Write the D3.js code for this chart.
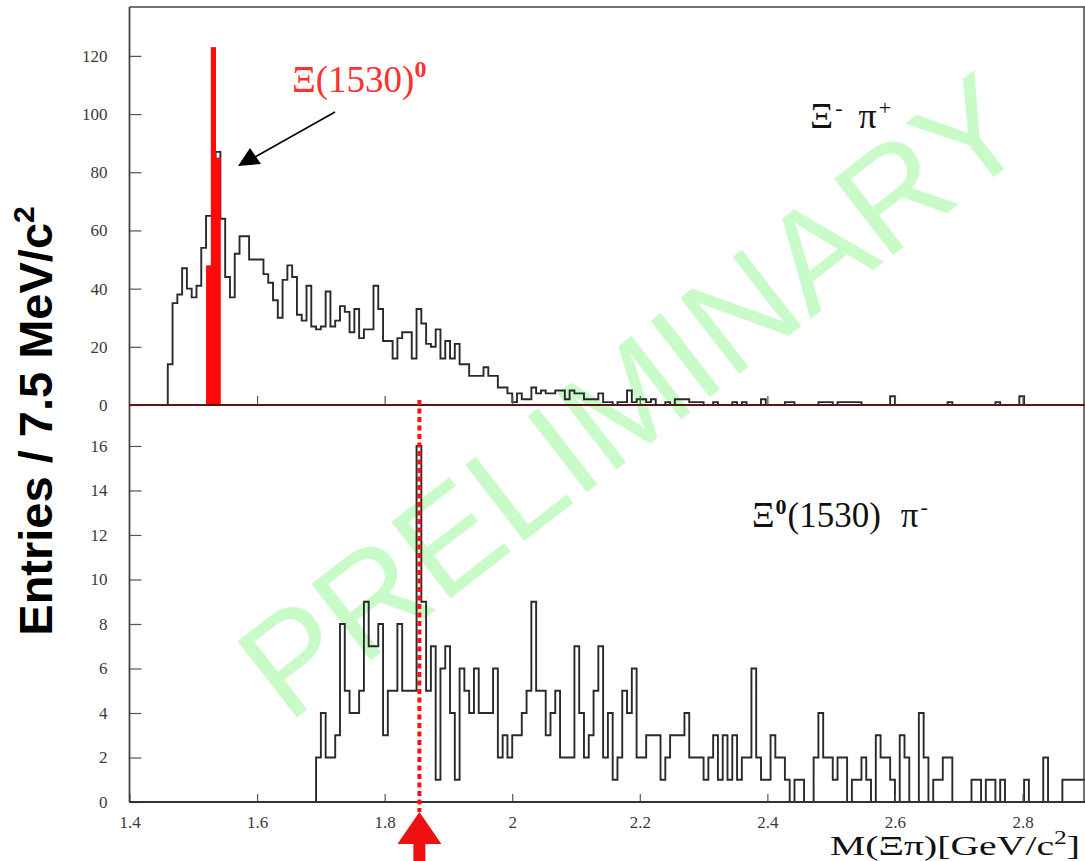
<!DOCTYPE html>
<html><head><meta charset="utf-8">
<script src="https://cdn.jsdelivr.net/npm/d3@7"></script>
<style>body{margin:0;background:#fff}svg{display:block}</style>
</head><body><svg id="c" width="1085" height="861"></svg>
<script>
// ---- data ----
const binStart = 1.4;      // GeV/c^2
const binWidth = 0.0075;   // 7.5 MeV/c^2
const topCounts = [
0,0,0,0,0,0,0,0,
14,35,38,47,40,37,41,54,65,65,
87,64,44,37,52,58,58,50,50,50,
45,42,36,30,43,48,44,31,29,41,
27,26,27,39,27,29,34,32,25,33,
23,26,26,41,33,22,22,16,23,25,
25,16,33,28,21,20,26,16,22,16,
21,14,14,10,10,10,13,10,10,6,
6,4,1,4,2,2,6,4,5,4,
4,5,5,2,5,4,4,2,2,2,
4,1,1,0,1,1,5,1,2,2,
1,2,0,0,1,0,2,2,2,1,
1,1,0,0,1,0,0,0,1,0,
1,0,0,0,2,0,0,0,0,1,
1,0,0,0,0,0,1,1,1,0,
1,1,1,1,1,0,0,0,0,0,
0,3,0,0,0,0,0,0,0,0,
0,0,0,1,0,0,0,0,0,0,
0,0,0,1,0,0,0,0,3,0,
0,0,0,0,0,0,0,0,0,0,0,0
];
const bottomCounts = [
0,0,0,0,0,0,0,0,0,0,0,0,0,0,0,0,0,0,0,0,
0,0,0,0,0,0,0,0,0,0,0,0,0,0,0,0,0,0,0,
2,4,2,2,3,8,5,4,4,5,
9,7,7,8,3,5,5,8,5,5,
5,16,9,5,7,1,6,7,4,1,
6,5,4,6,4,4,4,6,2,3,
2,3,3,4,5,9,5,5,3,4,
5,2,2,2,7,4,2,3,5,7,
2,4,1,2,5,4,6,2,2,3,
3,3,1,2,3,3,3,4,2,2,
2,1,2,3,1,3,1,3,1,2,
2,6,2,1,1,3,2,2,1,0,
1,1,0,0,2,4,2,2,1,2,
2,0,1,1,2,1,0,3,2,2,
1,0,3,2,0,0,4,2,0,1,
1,2,2,0,0,0,0,1,1,0,
1,1,0,1,0,0,0,0,1,0,
0,0,2,0,0,0,1,1,1,1,1
];
const signalBins = [16, 17, 18];          // Xi(1530)0 selection window
const signalCounts = [48, 123, 85];
const topTickValues = [0, 20, 40, 60, 80, 100, 120];
const bottomTickValues = [0, 2, 4, 6, 8, 10, 12, 14, 16];
const xTickValues = [1.4, 1.6, 1.8, 2.0, 2.2, 2.4, 2.6, 2.8];
const xTickLabels = ["1.4", "1.6", "1.8", "2", "2.2", "2.4", "2.6", "2.8"];
const peakMass = 1.8545;

// ---- scales ----
const svg = d3.select("#c");
const x = d3.scaleLinear().domain([1.4, 2.9]).range([129.5, 1086.3]);
const yTop = d3.scaleLinear().domain([0, 136.8]).range([405, 7]);
const yBot = d3.scaleLinear().domain([0, 17.84]).range([802, 405]);
const serif = "'Liberation Serif','Times New Roman',serif";

svg.append("defs").append("clipPath").attr("id", "clip")
  .append("rect").attr("x", 129).attr("y", 0).attr("width", 956).attr("height", 803);

// ---- watermark ----
svg.append("text")
  .attr("transform", "translate(632,396) rotate(-37.8)")
  .attr("text-anchor", "middle").attr("dominant-baseline", "central")
  .style("font-family", "'Liberation Sans',Arial,sans-serif")
  .style("font-size", "140px")
  .style("fill", "#c8fbc8")
  .text("PRELIMINARY");

// ---- histograms ----
function histPoints(counts) {
  const pts = counts.map((c, i) => [binStart + i * binWidth, c]);
  pts.push([binStart + counts.length * binWidth, counts[counts.length - 1]]);
  return pts;
}
const g = svg.append("g").attr("clip-path", "url(#clip)");
g.append("path")
  .attr("d", d3.line().x(d => x(d[0])).y(d => yTop(d[1])).curve(d3.curveStepAfter)(histPoints(topCounts)))
  .attr("fill", "none").attr("stroke", "#2a2a2a").attr("stroke-width", 1.9);
g.append("path")
  .attr("d", d3.line().x(d => x(d[0])).y(d => yBot(d[1])).curve(d3.curveStepAfter)(histPoints(bottomCounts)))
  .attr("fill", "none").attr("stroke", "#2a2a2a").attr("stroke-width", 1.9);

// red signal bars
g.selectAll("rect.sig").data(signalBins).join("rect")
  .attr("x", b => x(binStart + b * binWidth))
  .attr("width", b => x(binStart + (b + 1) * binWidth) - x(binStart + b * binWidth) + 0.4)
  .attr("y", (b, i) => yTop(signalCounts[i]))
  .attr("height", (b, i) => yTop(0) - yTop(signalCounts[i]))
  .attr("fill", "#ff0a0a");

// ---- axes ----
const axisFont = sel => sel.selectAll("text")
  .style("font-family", serif).style("font-size", "17px").attr("fill", "#3a3a3a");

const aTop = svg.append("g").attr("transform", "translate(129.5,0)")
  .call(d3.axisLeft(yTop).tickValues(topTickValues).tickSizeInner(-12).tickSizeOuter(0).tickPadding(22));
aTop.call(axisFont);
const aBot = svg.append("g").attr("transform", "translate(129.5,0)")
  .call(d3.axisLeft(yBot).tickValues(bottomTickValues).tickSizeInner(-12).tickSizeOuter(0).tickPadding(22));
aBot.call(axisFont);
[aTop, aBot].forEach(a => { a.select(".domain").remove(); a.selectAll("line").attr("stroke", "#555").attr("stroke-width", 1.2); });

const xAx = svg.append("g").attr("transform", "translate(0,802)")
  .call(d3.axisBottom(x).tickValues(xTickValues).tickFormat((d, i) => xTickLabels[i])
    .tickSizeInner(-8).tickSizeOuter(0).tickPadding(14));
xAx.call(axisFont);
xAx.select(".domain").remove();
xAx.selectAll("line").attr("stroke", "#555").attr("stroke-width", 1.2);

const xAxTop = svg.append("g").attr("transform", "translate(0,405)")
  .call(d3.axisBottom(x).tickValues(xTickValues.slice(1)).tickSizeInner(-9).tickSizeOuter(0).tickFormat(""));
xAxTop.select(".domain").remove();
xAxTop.selectAll("line").attr("stroke", "#555").attr("stroke-width", 1.2);

// frame lines
svg.append("line").attr("x1", 129.5).attr("x2", 129.5).attr("y1", 7).attr("y2", 802)
  .attr("stroke", "#444").attr("stroke-width", 1.8);
svg.append("line").attr("x1", 129.5).attr("x2", 1085).attr("y1", 7).attr("y2", 7)
  .attr("stroke", "#444").attr("stroke-width", 1.5);
svg.append("line").attr("x1", 1084).attr("x2", 1084).attr("y1", 7).attr("y2", 802)
  .attr("stroke", "#444").attr("stroke-width", 1.5);
svg.append("line").attr("x1", 129.5).attr("x2", 1085).attr("y1", 802).attr("y2", 802)
  .attr("stroke", "#333").attr("stroke-width", 1.8);
svg.append("line").attr("x1", 129.5).attr("x2", 1085).attr("y1", 405).attr("y2", 405)
  .attr("stroke", "#5a1616").attr("stroke-width", 2.2);

// ---- peak marker ----
svg.append("line")
  .attr("x1", x(peakMass)).attr("x2", x(peakMass)).attr("y1", 400).attr("y2", 812)
  .attr("stroke", "#ff1010").attr("stroke-width", 4).attr("stroke-dasharray", "5,3.5");
const px = x(peakMass);
svg.append("path")
  .attr("d", `M${px},812 L${px + 22},844 L${px + 6},844 L${px + 6},861 L${px - 6},861 L${px - 6},844 L${px - 22},844 Z`)
  .attr("fill", "#ee1111");

// ---- labels ----
const lab = svg.append("g").style("font-family", serif);
const t1 = lab.append("text").attr("x", 292).attr("y", 92).style("font-size", "37px").attr("fill", "#ff3030");
t1.append("tspan").text("Ξ(1530)");
t1.append("tspan").attr("dy", -15).style("font-size", "24px").style("font-weight", "bold").text("0");

// annotation arrow
svg.append("line").attr("x1", 335).attr("y1", 112).attr("x2", 255).attr("y2", 157)
  .attr("stroke", "#000").attr("stroke-width", 1.5);
svg.append("path").attr("d", "M238,166 L250,148 L261,164 Z").attr("fill", "#000");

const t2 = lab.append("text").attr("x", 810).attr("y", 128).style("font-size", "36px").attr("fill", "#111");
t2.append("tspan").text("Ξ");
t2.append("tspan").attr("dy", -13).attr("dx", 2).style("font-size", "22px").text("-");
t2.append("tspan").attr("dy", 13).attr("dx", 16).text("π");
t2.append("tspan").attr("dy", -13).attr("dx", 2).style("font-size", "22px").text("+");

const t3 = lab.append("text").attr("x", 752).attr("y", 527).style("font-size", "35px").attr("fill", "#111");
t3.append("tspan").text("Ξ");
t3.append("tspan").attr("dy", -13).attr("dx", 1).style("font-size", "22px").style("font-weight", "bold").text("0");
t3.append("tspan").attr("dy", 13).attr("dx", 1).text("(1530)");
t3.append("tspan").attr("dx", 20).text("π");
t3.append("tspan").attr("dy", -13).attr("dx", 2).style("font-size", "22px").text("-");

const t4 = lab.append("text").attr("x", 830).attr("y", 855).style("font-size", "28px").attr("fill", "#111")
  .attr("textLength", 250).attr("lengthAdjust", "spacingAndGlyphs");
t4.append("tspan").text("M(Ξπ)[GeV/c");
t4.append("tspan").attr("dy", -11).style("font-size", "18px").text("2");
t4.append("tspan").attr("dy", 11).text("]");

const t5 = svg.append("text")
  .attr("transform", "translate(52,421) rotate(-90)")
  .attr("text-anchor", "middle")
  .style("font-family", "'Liberation Sans',Arial,sans-serif").style("font-weight", "bold")
  .style("font-size", "47px").attr("fill", "#000");
t5.append("tspan").text("Entries / 7.5 MeV/c");
t5.append("tspan").attr("dy", -18).style("font-size", "30px").text("2");
</script></body></html>
